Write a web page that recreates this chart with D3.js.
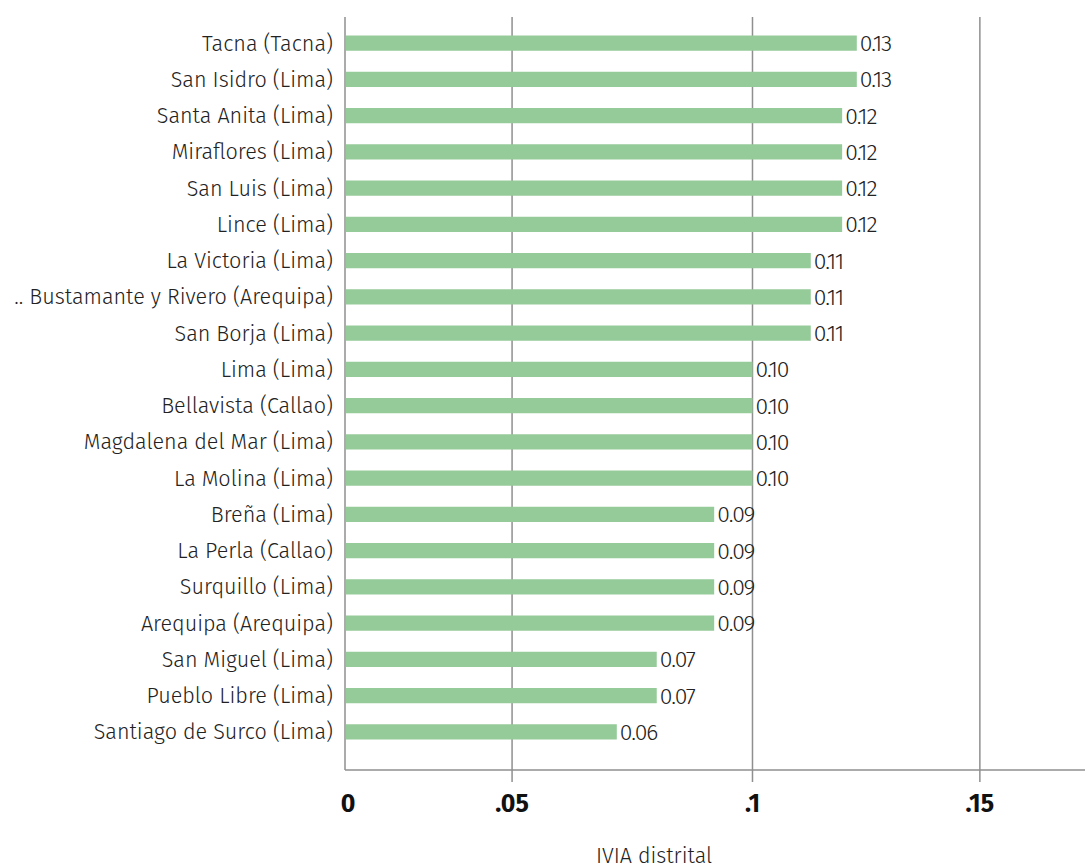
<!DOCTYPE html>
<html><head><meta charset="utf-8">
<script src="https://cdn.jsdelivr.net/npm/d3@7"></script>
<style>body{margin:0;background:#fff}svg{display:block}</style>
</head><body>
<script>
const categories = ["Tacna (Tacna)","San Isidro (Lima)","Santa Anita (Lima)","Miraflores (Lima)","San Luis (Lima)","Lince (Lima)","La Victoria (Lima)",".. Bustamante y Rivero (Arequipa)","San Borja (Lima)","Lima (Lima)","Bellavista (Callao)","Magdalena del Mar (Lima)","La Molina (Lima)","Breña (Lima)","La Perla (Callao)","Surquillo (Lima)","Arequipa (Arequipa)","San Miguel (Lima)","Pueblo Libre (Lima)","Santiago de Surco (Lima)"];
const values = [0.1256,0.1256,0.1220,0.1220,0.1220,0.1220,0.1143,0.1143,0.1143,0.1000,0.1000,0.1000,0.1000,0.0906,0.0906,0.0906,0.0906,0.0765,0.0765,0.0667];
const valueLabels = ["0.13","0.13","0.12","0.12","0.12","0.12","0.11","0.11","0.11","0.10","0.10","0.10","0.10","0.09","0.09","0.09","0.09","0.07","0.07","0.06"];
const tickValues = [0, 0.0410, 0.1000, 0.1558];
const tickLabels = ["0", ".05", ".1", ".15"];
const xMax = 0.1816;
const axisTitle = "IVIA distrital";

const W = 1085, H = 868;
const mLeft = 345, mRight = 1085, mTop = 17, mBottom = 770;
const font = "'Fira Sans', Roboto, 'Open Sans', sans-serif";

const svg = d3.select("body").append("svg").attr("width", W).attr("height", H);
const x = d3.scaleLinear().domain([0, xMax]).range([mLeft, mRight]);
const y = d3.scaleBand().domain(categories).range([25, 750]).paddingInner(0.58).paddingOuter(0.29);

// gridlines with tick marks
svg.append("g").selectAll("line").data(tickValues.slice(1)).join("line")
  .attr("x1", d => x(d)).attr("x2", d => x(d))
  .attr("y1", mTop).attr("y2", mBottom + 12)
  .attr("stroke", "#8f8f8f").attr("stroke-width", 1.5);

// axes lines
svg.append("line").attr("x1", mLeft).attr("x2", mLeft).attr("y1", mTop).attr("y2", mBottom)
  .attr("stroke", "#8f8f8f").attr("stroke-width", 1.5);
svg.append("line").attr("x1", mLeft).attr("x2", mRight).attr("y1", mBottom).attr("y2", mBottom)
  .attr("stroke", "#8f8f8f").attr("stroke-width", 1.5);

// bars
svg.append("g").selectAll("rect").data(values).join("rect")
  .attr("x", x(0) + 1)
  .attr("y", (d, i) => y(categories[i]))
  .attr("width", d => x(d) - x(0) - 1)
  .attr("height", y.bandwidth())
  .attr("fill", "#94cb98");

// value labels
svg.append("g").selectAll("text").data(values).join("text")
  .attr("x", d => x(d) + 3)
  .attr("y", (d, i) => y(categories[i]) + y.bandwidth() / 2 + 8)
  .attr("font-family", font).attr("font-size", 23).attr("font-weight", 300).attr("fill", "#222")
  .attr("letter-spacing", -1.1)
  .text((d, i) => valueLabels[i]);

// category labels
svg.append("g").selectAll("text").data(categories).join("text")
  .attr("x", 333)
  .attr("y", d => y(d) + y.bandwidth() / 2 + 7.5)
  .attr("text-anchor", "end")
  .attr("font-family", font).attr("font-size", 21.6).attr("font-weight", 300).attr("fill", "#222")
  .text(d => d);

// tick labels
svg.append("g").selectAll("text").data(tickValues).join("text")
  .attr("x", (d, i) => x(d) + (i === 0 ? 3 : 0))
  .attr("y", 812)
  .attr("text-anchor", "middle")
  .attr("font-family", font).attr("font-size", 25).attr("font-weight", "bold").attr("fill", "#111")
  .text((d, i) => tickLabels[i]);

// axis title
svg.append("text").attr("x", 654).attr("y", 863).attr("text-anchor", "middle")
  .attr("font-family", font).attr("font-size", 21.5).attr("font-weight", 300).attr("fill", "#222")
  .text(axisTitle);
</script>
</body></html>
